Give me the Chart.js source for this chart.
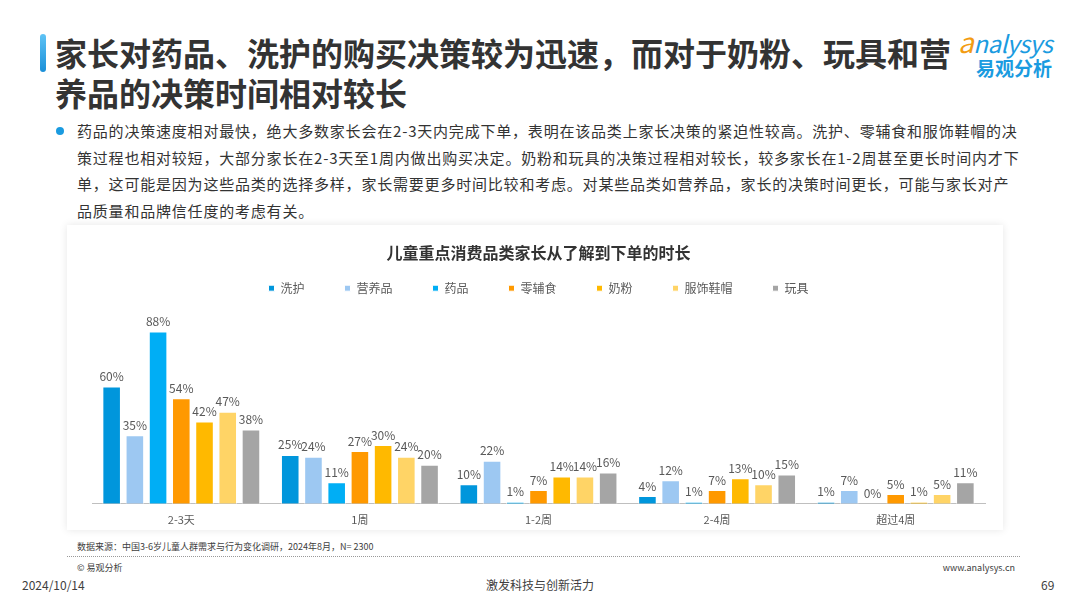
<!DOCTYPE html>
<html>
<head>
<meta charset="utf-8">
<script src="https://cdn.jsdelivr.net/npm/chart.js@4.4.0/dist/chart.umd.min.js"></script>
<style>
  body { margin: 0; width: 1080px; height: 608px; background: #fff; font-family: "Noto Sans CJK SC", "Noto Sans", sans-serif; position: relative; overflow: hidden; color: #333; }
  .accent { position: absolute; left: 40px; top: 34px; width: 6px; height: 38px; border-radius: 3px; background: linear-gradient(#5fc3f5, #1a8fd8); }
  .title { position: absolute; left: 55px; top: 32px; font-size: 32px; font-weight: bold; line-height: 40px; color: #333; white-space: nowrap; }
  .logo { position: absolute; left: 958px; top: 28px; width: 115px; }
  .logo .en { font-size: 24px; color: #1a9be0; font-style: italic; letter-spacing: -0.5px; line-height: 26px; }
  .logo .en span { color: #f39c12; font-size: 28px; }
  .logo .cn { font-size: 19px; color: #1a9be0; font-weight: bold; margin-left: 18px; line-height: 24px; }
  .dot { position: absolute; left: 56px; top: 127px; width: 8px; height: 8px; border-radius: 50%; background: #1a9be0; }
  .para { position: absolute; left: 77px; top: 118px; font-size: 15px; letter-spacing: 0.8px; line-height: 26.5px; color: #333; white-space: nowrap; }
  .card { position: absolute; left: 67px; top: 225px; width: 936px; height: 305px; background: #fff; box-shadow: 0 0 8px rgba(0,0,0,0.10); }
  .src { position: absolute; left: 77px; top: 540px; font-size: 9px; color: #404040; }
  .rule { position: absolute; left: 67px; top: 556px; width: 953px; border-top: 1px dotted #999; }
  .copy { position: absolute; left: 77px; top: 561px; font-size: 9px; color: #404040; }
  .site { position: absolute; right: 65px; top: 561px; font-size: 9px; color: #404040; }
  .date { position: absolute; left: 22px; top: 576px; font-size: 12px; color: #404040; }
  .slogan { position: absolute; left: 0; width: 1080px; text-align: center; top: 576px; font-size: 12px; color: #404040; }
  .page { position: absolute; left: 1041px; top: 576px; font-size: 12px; color: #404040; }
</style>
</head>
<body>
<div class="accent"></div>
<div class="title">家长对药品、洗护的购买决策较为迅速，而对于奶粉、玩具和营<br>养品的决策时间相对较长</div>
<div class="logo"><div class="en"><span>a</span>nalysys</div><div class="cn">易观分析</div></div>
<div class="dot"></div>
<div class="para">药品的决策速度相对最快，绝大多数家长会在2-3天内完成下单，表明在该品类上家长决策的紧迫性较高。洗护、零辅食和服饰鞋帽的决<br>策过程也相对较短，大部分家长在2-3天至1周内做出购买决定。奶粉和玩具的决策过程相对较长，较多家长在1-2周甚至更长时间内才下<br>单，这可能是因为这些品类的选择多样，家长需要更多时间比较和考虑。对某些品类如营养品，家长的决策时间更长，可能与家长对产<br>品质量和品牌信任度的考虑有关。</div>
<div class="card"><canvas id="c" width="936" height="305"></canvas></div>
<div class="src">数据来源：中国3-6岁儿童人群需求与行为变化调研，2024年8月，N= 2300</div>
<div class="rule"></div>
<div class="copy">© 易观分析</div>
<div class="site">www.analysys.cn</div>
<div class="date">2024/10/14</div>
<div class="slogan">激发科技与创新活力</div>
<div class="page">69</div>
<script>
const categories = ['2-3天', '1周', '1-2周', '2-4周', '超过4周'];
const xihu = [60, 25, 10, 4, 1];        // 洗护
const yingyang = [35, 24, 22, 12, 7];   // 营养品
const yaopin = [88, 11, 1, 1, 0];       // 药品
const lingfushi = [54, 27, 7, 7, 5];    // 零辅食
const naifen = [42, 30, 14, 13, 1];     // 奶粉
const fushi = [47, 24, 14, 10, 5];      // 服饰鞋帽
const wanju = [38, 20, 16, 15, 11];     // 玩具

const series = [
    { label: '洗护', data: xihu, color: '#0096DC' },
    { label: '营养品', data: yingyang, color: '#9DC8F2' },
    { label: '药品', data: yaopin, color: '#00AEF5' },
    { label: '零辅食', data: lingfushi, color: '#FF9900' },
    { label: '奶粉', data: naifen, color: '#FFB900' },
    { label: '服饰鞋帽', data: fushi, color: '#FFD466' },
    { label: '玩具', data: wanju, color: '#A5A5A5' }
];

const FONT = '"Noto Sans CJK SC", "Noto Sans", sans-serif';

// value labels above the bars
const valueLabels = {
    id: 'valueLabels',
    afterDatasetsDraw(chart) {
        const ctx = chart.ctx;
        ctx.save();
        ctx.font = '12px ' + FONT;
        ctx.fillStyle = '#595959';
        ctx.textAlign = 'center';
        ctx.textBaseline = 'bottom';
        chart.data.datasets.forEach((ds, i) => {
            chart.getDatasetMeta(i).data.forEach((bar, j) => {
                ctx.fillText(ds.data[j] + '%', bar.x, bar.y - 4);
            });
        });
        ctx.restore();
    }
};

new Chart(document.getElementById('c'), {
    type: 'bar',
    data: {
        labels: categories,
        datasets: series.map(s => ({
            label: s.label,
            data: s.data,
            backgroundColor: s.color,
            borderColor: '#ffffff',
            borderWidth: 1,
            categoryPercentage: 0.91,
            barPercentage: 0.8
        }))
    },
    options: {
        responsive: false,
        animation: false,
        layout: { padding: { left: 25, right: 18, top: 12, bottom: 3 } },
        plugins: {
            title: {
                display: true,
                text: '儿童重点消费品类家长从了解到下单的时长',
                color: '#333',
                font: { family: FONT, size: 16, weight: 'bold' },
                padding: { top: 6, bottom: -20 }
            },
            legend: {
                labels: {
                    boxWidth: 6, boxHeight: 6, padding: 40,
                    color: '#595959',
                    font: { family: FONT, size: 12 }
                }
            },
            tooltip: { enabled: false }
        },
        scales: {
            x: {
                grid: { display: false },
                border: { display: true, color: '#bfbfbf' },
                ticks: { color: '#595959', padding: 1, font: { family: FONT, size: 11 } }
            },
            y: { display: false, min: 0, max: 102 }
        }
    },
    plugins: [valueLabels]
});
</script>
</body>
</html>
